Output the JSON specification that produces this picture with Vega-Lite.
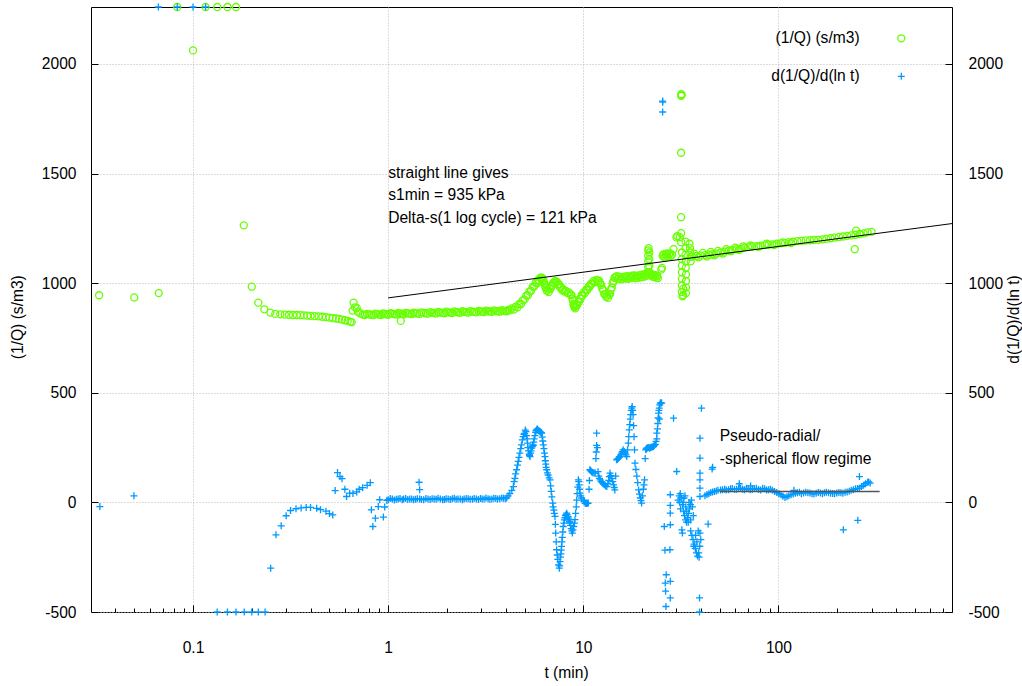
{
"$schema":"https://vega.github.io/schema/vega-lite/v6.json",
"autosize":{"type":"none"},
"width":861,"height":605,
"padding":{"left":91,"top":7,"right":70,"bottom":74},
"background":"white",
"config":{
 "view":{"stroke":"#000","strokeWidth":1},
 "axis":{"labelFont":"Liberation Sans","labelFontSize":15.6,"labelColor":"#000","titleFont":"Liberation Sans","titleFontSize":15.6,"titleFontWeight":"normal","titleColor":"#000","domain":false,"tickColor":"#000","tickWidth":1,"gridColor":"#b8b8b8","gridDash":[1,2],"gridWidth":1,"labelExpr":"'' + datum.value"},
 "legend":{"labelFont":"Liberation Sans","labelFontSize":15.6,"labelColor":"#000"}
},
"datasets":{
"q":[
{"t":0.033,"v":945},{"t":0.05,"v":935},{"t":0.0667,"v":955},{"t":0.083,"v":2400},{"t":0.1,"v":2062},{"t":0.116,"v":2400},{"t":0.133,"v":2400},{"t":0.15,"v":2400},{"t":0.166,"v":2400},{"t":0.182,"v":1264},{"t":0.2,"v":984},{"t":0.216,"v":911},{"t":0.232,"v":881},{"t":0.249,"v":866},{"t":0.264,"v":860},
{"t":0.28,"v":858},{"t":0.295,"v":857},{"t":0.31,"v":856},{"t":0.325,"v":855},{"t":0.34,"v":855},{"t":0.355,"v":854},{"t":0.37,"v":853},{"t":0.385,"v":852},{"t":0.4,"v":851},{"t":0.42,"v":850},{"t":0.44,"v":849},{"t":0.46,"v":847},{"t":0.48,"v":845},{"t":0.5,"v":843},{"t":0.52,"v":841},{"t":0.54,"v":839},{"t":0.56,"v":837},{"t":0.58,"v":834},{"t":0.6,"v":831},{"t":0.62,"v":828},{"t":0.64,"v":825},{"t":0.65,"v":822},
{"t":0.657,"v":875},{"t":0.665,"v":911},{"t":0.675,"v":890},{"t":0.69,"v":887},{"t":0.7,"v":870},{"t":0.72,"v":862},{"t":0.74,"v":857},
{"t":0.76,"v":855},{"t":0.8,"v":858},{"t":0.84,"v":854},{"t":0.88,"v":859},{"t":0.92,"v":855},{"t":0.96,"v":860},{"t":1.0,"v":856},{"t":1.05,"v":861},{"t":1.1,"v":857},{"t":1.15,"v":862},{"t":1.16,"v":828},{"t":1.2,"v":858},{"t":1.26,"v":862},{"t":1.32,"v":859},{"t":1.38,"v":863},{"t":1.45,"v":860},{"t":1.52,"v":864},{"t":1.6,"v":861},{"t":1.68,"v":865},{"t":1.76,"v":862},{"t":1.85,"v":866},{"t":1.94,"v":863},{"t":2.03,"v":867},{"t":2.13,"v":864},{"t":2.23,"v":868},{"t":2.34,"v":865},{"t":2.45,"v":869},{"t":2.57,"v":866},{"t":2.7,"v":870},{"t":2.83,"v":867},{"t":2.97,"v":871},{"t":3.1,"v":868},{"t":3.25,"v":872},{"t":3.4,"v":869},{"t":3.56,"v":873},{"t":3.73,"v":870},{"t":3.9,"v":874},{"t":4.05,"v":872},{"t":4.2,"v":876},
{"t":0.78,"v":860},{"t":0.82,"v":856},{"t":0.86,"v":861},{"t":0.9,"v":857},{"t":0.94,"v":862},{"t":0.98,"v":858},{"t":1.025,"v":863},{"t":1.075,"v":859},{"t":1.125,"v":864},{"t":1.18,"v":860},{"t":1.23,"v":865},{"t":1.29,"v":861},{"t":1.35,"v":866},{"t":1.41,"v":862},{"t":1.48,"v":867},{"t":1.56,"v":863},{"t":1.64,"v":868},{"t":1.72,"v":864},{"t":1.8,"v":869},{"t":1.9,"v":865},{"t":1.98,"v":870},{"t":2.08,"v":866},{"t":2.18,"v":871},{"t":2.28,"v":867},{"t":2.4,"v":872},{"t":2.51,"v":868},{"t":2.63,"v":873},{"t":2.76,"v":869},{"t":2.9,"v":874},{"t":3.03,"v":870},{"t":3.17,"v":875},{"t":3.32,"v":871},{"t":3.48,"v":876},{"t":3.64,"v":872},{"t":3.82,"v":877},{"t":3.98,"v":873},{"t":4.12,"v":878},
{"t":4.4,"v":880},{"t":4.6,"v":890},{"t":4.8,"v":905},{"t":5.0,"v":925},{"t":5.2,"v":945},{"t":5.4,"v":965},{"t":5.6,"v":985},{"t":5.8,"v":1000},{"t":5.95,"v":1010},{"t":6.1,"v":1020},{"t":6.2,"v":1015},{"t":6.3,"v":1000},{"t":6.4,"v":980},{"t":6.5,"v":965},{"t":6.65,"v":960},{"t":6.8,"v":975},{"t":6.95,"v":990},{"t":7.1,"v":1000},{"t":7.25,"v":1003},{"t":7.4,"v":995},{"t":7.6,"v":980},{"t":7.8,"v":968},{"t":8.0,"v":962},{"t":8.3,"v":955},{"t":8.6,"v":948},{"t":8.8,"v":930},{"t":8.9,"v":905},{"t":9.0,"v":890},{"t":9.1,"v":885},{"t":9.3,"v":900},{"t":9.5,"v":915},{"t":9.7,"v":930},{"t":9.9,"v":945},{"t":10.2,"v":955},{"t":10.5,"v":970},{"t":10.8,"v":985},{"t":11.1,"v":998},{"t":11.5,"v":1005},{"t":11.9,"v":1008},{"t":12.2,"v":1000},{"t":12.5,"v":975},{"t":12.8,"v":950},{"t":13.1,"v":938},{"t":13.4,"v":933},{"t":13.7,"v":950},{"t":14.0,"v":980},{"t":14.3,"v":1010},{"t":14.6,"v":1025},{"t":15.0,"v":1020},{"t":15.5,"v":1018},{"t":16.0,"v":1020},{"t":16.5,"v":1022},{"t":17.0,"v":1020},{"t":17.5,"v":1023},{"t":18.0,"v":1025},{"t":18.5,"v":1022},{"t":19.0,"v":1025},{"t":19.5,"v":1027},{"t":20.0,"v":1028},{"t":20.6,"v":1030},{"t":21.2,"v":1035},
{"t":4.3,"v":885},{"t":4.5,"v":893},{"t":4.7,"v":905},{"t":4.9,"v":922},{"t":5.1,"v":943},{"t":5.3,"v":962},{"t":5.5,"v":983},{"t":5.7,"v":1002},{"t":5.88,"v":1015},{"t":6.03,"v":1025},{"t":6.15,"v":1025},{"t":6.25,"v":1012},{"t":6.35,"v":993},{"t":6.45,"v":978},{"t":6.58,"v":970},{"t":6.72,"v":975},{"t":6.88,"v":990},{"t":7.03,"v":1003},{"t":7.18,"v":1010},{"t":7.33,"v":1006},{"t":7.5,"v":995},{"t":7.7,"v":982},{"t":7.9,"v":972},{"t":8.15,"v":965},{"t":8.45,"v":958},{"t":8.7,"v":945},{"t":8.85,"v":922},{"t":8.95,"v":900},{"t":9.05,"v":895},{"t":9.2,"v":900},{"t":9.4,"v":915},{"t":9.6,"v":930},{"t":9.8,"v":945},{"t":10.05,"v":958},{"t":10.35,"v":970},{"t":10.65,"v":985},{"t":10.95,"v":998},{"t":11.3,"v":1010},{"t":11.7,"v":1015},{"t":12.05,"v":1012},{"t":12.35,"v":992},{"t":12.65,"v":968},{"t":12.95,"v":950},{"t":13.25,"v":943},{"t":13.55,"v":948},{"t":13.85,"v":970},{"t":14.15,"v":1000},{"t":14.45,"v":1025},{"t":14.8,"v":1032},{"t":15.25,"v":1030},{"t":15.75,"v":1028},{"t":16.25,"v":1030},{"t":16.75,"v":1032},{"t":17.25,"v":1030},{"t":17.75,"v":1034},{"t":18.25,"v":1035},{"t":18.75,"v":1033},{"t":19.25,"v":1036},{"t":19.75,"v":1038},{"t":20.3,"v":1040},{"t":20.9,"v":1043},{"t":22.0,"v":1045},{"t":22.5,"v":1040},{"t":23.0,"v":1038},{"t":23.5,"v":1036},{"t":23.9,"v":1034},
{"t":21.5,"v":1050},{"t":21.5,"v":1075},{"t":21.5,"v":1100},{"t":21.5,"v":1125},{"t":21.5,"v":1150},{"t":21.6,"v":1160},{"t":21.8,"v":1140},{"t":21.8,"v":1110},{"t":21.8,"v":1080},{"t":21.8,"v":1050},
{"t":22.2,"v":1035},{"t":22.7,"v":1030},{"t":23.2,"v":1028},{"t":23.7,"v":1025},{"t":24.1,"v":1023},{"t":25.1,"v":1062},{"t":25.3,"v":1070},
{"t":25.5,"v":1125},{"t":26,"v":1118},{"t":26.5,"v":1130},{"t":27,"v":1122},{"t":27.5,"v":1132},{"t":28,"v":1124},{"t":28.5,"v":1130},{"t":25.8,"v":1132},{"t":26.8,"v":1136},{"t":27.8,"v":1136},
{"t":29,"v":1155},{"t":30,"v":1209},{"t":30.3,"v":1215},{"t":31.2,"v":1210},{"t":31.7,"v":1187},{"t":31.7,"v":1228},{"t":31.7,"v":1301},{"t":31.7,"v":1595},{"t":31.7,"v":1855},{"t":31.8,"v":1862},{"t":31.9,"v":1858},
{"t":32,"v":1140},{"t":32,"v":1110},{"t":32,"v":1080},{"t":32,"v":1050},{"t":32,"v":1020},{"t":32,"v":990},{"t":32,"v":960},{"t":32.2,"v":940},{"t":32.5,"v":945},{"t":32.5,"v":975},
{"t":33.4,"v":1190},{"t":33.4,"v":1160},{"t":33.4,"v":1130},{"t":33.5,"v":1100},{"t":33.5,"v":1070},{"t":33.6,"v":1040},{"t":33.6,"v":1010},{"t":33.6,"v":980},{"t":33.6,"v":955},
{"t":35,"v":1180},{"t":35.2,"v":1160},{"t":35.3,"v":1140},{"t":35.5,"v":1120},{"t":35.5,"v":1100},
{"t":36,"v":1122},{"t":38,"v":1124},{"t":40,"v":1126},{"t":42,"v":1128},{"t":44,"v":1130},{"t":46,"v":1132},{"t":48,"v":1135},{"t":50.5,"v":1140},{"t":53,"v":1144},{"t":55.5,"v":1149},{"t":58,"v":1152},{"t":61,"v":1155},{"t":64,"v":1158},{"t":67,"v":1162},{"t":70,"v":1165},{"t":73.5,"v":1167},{"t":77,"v":1169},{"t":81,"v":1171},{"t":85,"v":1174},{"t":89,"v":1176},{"t":93,"v":1177},{"t":98,"v":1180},{"t":103,"v":1182},{"t":108,"v":1184},{"t":113,"v":1187},{"t":119,"v":1189},{"t":125,"v":1192},{"t":131,"v":1193},{"t":138,"v":1195},{"t":145,"v":1196},{"t":152,"v":1197},{"t":160,"v":1198},{"t":168,"v":1200},{"t":176,"v":1202},{"t":185,"v":1205},{"t":194,"v":1208},{"t":204,"v":1211},{"t":214,"v":1213},{"t":225,"v":1216},{"t":236,"v":1218},{"t":248,"v":1221},{"t":260,"v":1224},{"t":273,"v":1227},{"t":286,"v":1232},{"t":300,"v":1234},
{"t":37,"v":1135},{"t":41,"v":1138},{"t":45,"v":1143},{"t":49,"v":1147},{"t":54,"v":1155},{"t":60,"v":1162},{"t":66,"v":1168},{"t":39,"v":1118},{"t":43,"v":1122},{"t":47,"v":1127},{"t":52,"v":1135},{"t":57,"v":1146},{"t":63,"v":1152},{"t":72,"v":1172},{"t":79,"v":1166},{"t":87,"v":1180},{"t":95,"v":1174},{"t":105,"v":1186},{"t":116,"v":1183},
{"t":246,"v":1155},{"t":250,"v":1240},{"t":262,"v":1225}
],
"d":[
{"t":0.0333,"v":-19},{"t":0.0498,"v":30},{"t":0.0664,"v":2400},{"t":0.083,"v":2400},{"t":0.1,"v":2400},{"t":0.116,"v":2400},
{"t":0.133,"v":-700},{"t":0.15,"v":-700},{"t":0.166,"v":-700},{"t":0.183,"v":-700},{"t":0.2,"v":-700},{"t":0.216,"v":-700},{"t":0.234,"v":-700},
{"t":0.25,"v":-300},{"t":0.266,"v":-148},{"t":0.283,"v":-107},{"t":0.3,"v":-61},{"t":0.316,"v":-37},{"t":0.337,"v":-29},{"t":0.358,"v":-25},{"t":0.38,"v":-23},{"t":0.4,"v":-23},{"t":0.43,"v":-27},{"t":0.45,"v":-33},{"t":0.48,"v":-40},{"t":0.5,"v":-51},{"t":0.52,"v":-57},
{"t":0.535,"v":54},{"t":0.55,"v":136},{"t":0.566,"v":118},{"t":0.58,"v":108},{"t":0.6,"v":60},{"t":0.612,"v":27},{"t":0.635,"v":42},{"t":0.66,"v":41},{"t":0.69,"v":48},{"t":0.71,"v":60},{"t":0.74,"v":67},{"t":0.78,"v":78},{"t":0.81,"v":90},{"t":0.82,"v":-34},{"t":0.835,"v":-110},{"t":0.86,"v":-72},{"t":0.89,"v":-19},{"t":0.905,"v":12},{"t":0.945,"v":-67},{"t":0.96,"v":-21},{"t":0.985,"v":9},
{"t":1.0,"v":12},{"t":1.05,"v":16},{"t":1.1,"v":14},{"t":1.15,"v":18},{"t":1.2,"v":15},{"t":1.26,"v":13},{"t":1.32,"v":16},{"t":1.38,"v":14},{"t":1.44,"v":92},{"t":1.45,"v":58},{"t":1.45,"v":15},{"t":1.52,"v":12},{"t":1.6,"v":15},{"t":1.68,"v":17},{"t":1.76,"v":14},{"t":1.85,"v":16},{"t":1.94,"v":13},{"t":2.03,"v":15},{"t":2.13,"v":17},{"t":2.23,"v":14},{"t":2.34,"v":16},{"t":2.45,"v":15},{"t":2.57,"v":17},{"t":2.7,"v":14},{"t":2.83,"v":16},{"t":2.97,"v":18},{"t":3.1,"v":15},{"t":3.25,"v":17},{"t":3.4,"v":16},{"t":3.56,"v":18},{"t":3.73,"v":17},{"t":3.9,"v":19},{"t":4.05,"v":20},
{"t":1.025,"v":18},{"t":1.075,"v":11},{"t":1.125,"v":16},{"t":1.18,"v":12},{"t":1.23,"v":18},{"t":1.29,"v":15},{"t":1.35,"v":12},{"t":1.41,"v":17},{"t":1.48,"v":13},{"t":1.56,"v":18},{"t":1.64,"v":13},{"t":1.72,"v":16},{"t":1.8,"v":19},{"t":1.9,"v":12},{"t":1.98,"v":17},{"t":2.08,"v":13},{"t":2.18,"v":19},{"t":2.28,"v":16},{"t":2.4,"v":12},{"t":2.51,"v":18},{"t":2.63,"v":14},{"t":2.76,"v":18},{"t":2.9,"v":13},{"t":3.03,"v":16},{"t":3.17,"v":20},{"t":3.32,"v":14},{"t":3.48,"v":19},{"t":3.64,"v":15},{"t":3.82,"v":20},{"t":3.98,"v":17},
{"t":4.2,"v":40},{"t":4.38,"v":72},{"t":4.46,"v":110},{"t":4.55,"v":149},{"t":4.64,"v":187},{"t":4.73,"v":225},{"t":4.82,"v":262},{"t":4.92,"v":300},{"t":5.0,"v":315},{"t":5.08,"v":323},{"t":5.15,"v":290},{"t":5.2,"v":250},{"t":5.28,"v":220},{"t":5.33,"v":209},{"t":5.4,"v":235},{"t":5.48,"v":255},{"t":5.54,"v":260},{"t":5.6,"v":290},{"t":5.7,"v":320},{"t":5.77,"v":331},{"t":5.85,"v":330},{"t":5.95,"v":325},{"t":6.05,"v":320},{"t":6.12,"v":316},{"t":6.2,"v":280},{"t":6.28,"v":245},{"t":6.36,"v":209},{"t":6.42,"v":175},{"t":6.49,"v":149},{"t":6.6,"v":125},{"t":6.75,"v":103},{"t":6.85,"v":50},{"t":6.97,"v":-3},{"t":7.06,"v":-35},{"t":7.16,"v":-64},{"t":7.22,"v":-140},{"t":7.3,"v":-216},{"t":7.4,"v":-260},{"t":7.53,"v":-300},{"t":7.6,"v":-270},{"t":7.68,"v":-235},{"t":7.74,"v":-201},{"t":7.8,"v":-160},{"t":7.89,"v":-110},{"t":8.0,"v":-80},{"t":8.1,"v":-60},{"t":8.22,"v":-49},{"t":8.35,"v":-65},{"t":8.45,"v":-80},{"t":8.55,"v":-94},{"t":8.67,"v":-120},{"t":8.79,"v":-140},{"t":8.92,"v":-110},{"t":9.06,"v":-79},{"t":9.2,"v":-20},{"t":9.3,"v":40},{"t":9.43,"v":103},{"t":9.52,"v":80},{"t":9.62,"v":42},{"t":9.8,"v":20},{"t":10.0,"v":10},{"t":10.2,"v":-3},{"t":10.4,"v":-5},{"t":10.6,"v":-3},{"t":10.7,"v":60},{"t":10.8,"v":149},{"t":11.0,"v":140},{"t":11.2,"v":135},{"t":11.5,"v":134},
{"t":4.12,"v":30},{"t":4.3,"v":55},{"t":4.42,"v":95},{"t":4.5,"v":130},{"t":4.6,"v":170},{"t":4.68,"v":205},{"t":4.78,"v":245},{"t":4.87,"v":285},{"t":4.96,"v":310},{"t":5.04,"v":330},{"t":5.12,"v":305},{"t":5.18,"v":270},{"t":5.24,"v":235},{"t":5.3,"v":215},{"t":5.37,"v":225},{"t":5.44,"v":248},{"t":5.51,"v":262},{"t":5.57,"v":275},{"t":5.65,"v":305},{"t":5.73,"v":328},{"t":5.81,"v":335},{"t":5.9,"v":328},{"t":6.0,"v":322},{"t":6.08,"v":318},{"t":6.16,"v":298},{"t":6.24,"v":262},{"t":6.32,"v":225},{"t":6.39,"v":190},{"t":6.45,"v":160},{"t":6.55,"v":135},{"t":6.68,"v":112},{"t":6.8,"v":75},{"t":6.9,"v":25},{"t":7.0,"v":-20},{"t":7.1,"v":-50},{"t":7.19,"v":-100},{"t":7.26,"v":-180},{"t":7.35,"v":-240},{"t":7.46,"v":-285},{"t":7.56,"v":-290},{"t":7.64,"v":-250},{"t":7.71,"v":-218},{"t":7.77,"v":-180},{"t":7.85,"v":-135},{"t":7.95,"v":-95},{"t":8.05,"v":-70},{"t":8.16,"v":-55},{"t":8.28,"v":-57},{"t":8.4,"v":-72},{"t":8.5,"v":-88},{"t":8.6,"v":-105},{"t":8.73,"v":-130},{"t":8.85,"v":-125},{"t":9.0,"v":-95},{"t":9.13,"v":-50},{"t":9.25,"v":10},{"t":9.37,"v":70},{"t":9.48,"v":95},{"t":9.57,"v":60},{"t":9.7,"v":30},
{"t":10.1,"v":5},{"t":10.3,"v":-5},{"t":10.5,"v":-4},{"t":10.75,"v":100},{"t":10.9,"v":145},{"t":11.1,"v":138},{"t":11.35,"v":134},{"t":11.65,"v":230},{"t":11.9,"v":140},{"t":12.1,"v":110},{"t":12.35,"v":95},{"t":12.65,"v":85},{"t":13.0,"v":75},{"t":13.35,"v":85},{"t":13.6,"v":118},{"t":13.85,"v":122},{"t":14.15,"v":95},{"t":14.4,"v":68},{"t":14.65,"v":120},{"t":14.95,"v":197},{"t":15.25,"v":205},{"t":15.55,"v":217},{"t":15.85,"v":232},{"t":16.2,"v":232},{"t":16.55,"v":217},{"t":16.85,"v":240},{"t":17.1,"v":300},{"t":17.3,"v":355},{"t":17.5,"v":400},{"t":17.7,"v":430},{"t":17.9,"v":420},{"t":18.1,"v":350},{"t":18.3,"v":240},{"t":18.6,"v":150},{"t":19.0,"v":90},{"t":19.4,"v":38},{"t":19.75,"v":8},{"t":20.1,"v":30},{"t":20.45,"v":80},{"t":20.75,"v":200},{"t":21.0,"v":244},{"t":21.3,"v":248},{"t":21.7,"v":249},{"t":22.1,"v":250},{"t":22.6,"v":253},{"t":23.1,"v":260},{"t":23.6,"v":278},{"t":24.0,"v":335},{"t":24.2,"v":385},{"t":24.4,"v":420},{"t":24.65,"v":445},{"t":25.0,"v":455},
{"t":11.6,"v":200},{"t":11.7,"v":260},{"t":11.7,"v":316},{"t":11.8,"v":250},
{"t":12.0,"v":120},{"t":12.2,"v":103},{"t":12.5,"v":90},{"t":12.8,"v":80},{"t":13.2,"v":72},{"t":13.5,"v":100},{"t":13.7,"v":134},{"t":14.0,"v":110},{"t":14.3,"v":80},{"t":14.5,"v":57},{"t":14.8,"v":194},{"t":15.1,"v":200},{"t":15.4,"v":209},{"t":15.7,"v":225},{"t":16.0,"v":240},{"t":16.4,"v":225},{"t":16.7,"v":209},{"t":17.0,"v":270},{"t":17.2,"v":331},{"t":17.4,"v":380},{"t":17.6,"v":420},{"t":17.8,"v":437},{"t":18.0,"v":400},{"t":18.2,"v":300},{"t":18.4,"v":179},{"t":18.8,"v":120},{"t":19.2,"v":57},{"t":19.6,"v":20},{"t":19.9,"v":-3},{"t":20.3,"v":60},{"t":20.6,"v":103},
{"t":20.9,"v":240},{"t":21.1,"v":247},{"t":21.5,"v":250},{"t":21.9,"v":247},{"t":22.3,"v":252},{"t":22.9,"v":255},{"t":23.4,"v":265},{"t":23.8,"v":290},{"t":23.8,"v":316},{"t":24.1,"v":360},{"t":24.3,"v":407},{"t":24.5,"v":430},{"t":24.8,"v":453},{"t":25.2,"v":453},{"t":24.6,"v":380},
{"t":29,"v":384},{"t":40.3,"v":430},{"t":39.6,"v":293},{"t":39.6,"v":202},{"t":30.1,"v":141},
{"t":25.5,"v":1831},{"t":25.5,"v":1826},{"t":25.5,"v":1781},
{"t":26.0,"v":-110},{"t":26.2,"v":-218},{"t":26.3,"v":-368},{"t":26.4,"v":-405},{"t":26.5,"v":-475},{"t":26.6,"v":-330},{"t":27.9,"v":35},{"t":27.9,"v":-14},{"t":27.9,"v":-49},{"t":27.9,"v":-102},{"t":27.8,"v":-216},{"t":27.9,"v":-360},{"t":27.9,"v":-436},
{"t":30.6,"v":10},{"t":31,"v":30},{"t":31.4,"v":40},{"t":31.8,"v":20},{"t":32.2,"v":-10},{"t":32.6,"v":-40},{"t":33,"v":-60},{"t":33.4,"v":-80},{"t":33.8,"v":-90},{"t":34.2,"v":-70},{"t":34.6,"v":-50},{"t":35,"v":-30},{"t":35.4,"v":-10},{"t":35.8,"v":10},{"t":36.2,"v":-20},{"t":36.6,"v":-60},{"t":31.5,"v":-30},{"t":32.5,"v":0},{"t":33.5,"v":-20},{"t":34.5,"v":-90},{"t":35.5,"v":-80},{"t":32,"v":-125},{"t":32.2,"v":-140},{"t":31.2,"v":0},{"t":32.8,"v":20},{"t":33.8,"v":-40},{"t":34.8,"v":0},{"t":33.2,"v":30},
{"t":35.5,"v":-130},{"t":36,"v":-150},{"t":36.5,"v":-170},{"t":37,"v":-190},{"t":37.5,"v":-210},{"t":38,"v":-230},{"t":38.5,"v":-245},{"t":39,"v":-230},{"t":39.5,"v":-200},{"t":40,"v":-170},{"t":39.6,"v":-140},{"t":38.8,"v":-130},{"t":37.6,"v":-150},{"t":36.8,"v":-200},{"t":38.2,"v":-180},{"t":39.2,"v":-250},
{"t":39.6,"v":134},{"t":39.6,"v":103},{"t":39.6,"v":65},{"t":39.6,"v":27},{"t":39.4,"v":-436},{"t":39.4,"v":-600},{"t":43.6,"v":-99},{"t":45.7,"v":152},{"t":46,"v":160},
{"t":42,"v":30},{"t":44,"v":40},{"t":46,"v":48},{"t":48,"v":52},{"t":50.5,"v":56},{"t":53,"v":60},{"t":55.5,"v":58},{"t":58,"v":63},{"t":61,"v":60},{"t":64,"v":65},{"t":67,"v":58},{"t":70,"v":62},{"t":73.5,"v":60},{"t":77,"v":64},{"t":81,"v":57},{"t":85,"v":62},{"t":89,"v":58},{"t":93,"v":55},{"t":98,"v":45},{"t":103,"v":35},{"t":108,"v":22},{"t":113,"v":30},{"t":119,"v":38},{"t":125,"v":44},{"t":131,"v":40},{"t":138,"v":46},{"t":145,"v":43},{"t":152,"v":38},{"t":160,"v":45},{"t":168,"v":40},{"t":176,"v":46},{"t":185,"v":42},{"t":194,"v":40},{"t":204,"v":45},{"t":214,"v":42},{"t":225,"v":48},{"t":236,"v":55},{"t":248,"v":62},{"t":260,"v":65},{"t":273,"v":78},{"t":286,"v":92},{"t":295,"v":88},
{"t":43,"v":36},{"t":45,"v":45},{"t":47,"v":50},{"t":49,"v":55},{"t":51.7,"v":58},{"t":54,"v":57},{"t":56.8,"v":62},{"t":59.5,"v":59},{"t":62.5,"v":63},{"t":65.5,"v":60},{"t":68.5,"v":64},{"t":71.7,"v":58},{"t":75.2,"v":63},{"t":79,"v":59},{"t":83,"v":64},{"t":87,"v":56},{"t":91,"v":60},{"t":95.5,"v":50},{"t":100.5,"v":40},{"t":105.5,"v":28},{"t":110.5,"v":26},{"t":116,"v":35},{"t":122,"v":42},{"t":128,"v":46},{"t":134.5,"v":43},{"t":141.5,"v":44},{"t":148.5,"v":40},{"t":156,"v":42},{"t":164,"v":43},{"t":172,"v":44},{"t":180.5,"v":44},{"t":189.5,"v":41},{"t":199,"v":43},{"t":209,"v":44},{"t":219.5,"v":46},{"t":230.5,"v":51},{"t":242,"v":58},{"t":254,"v":63},{"t":266.5,"v":72},{"t":279.5,"v":85},{"t":290,"v":93},
{"t":63,"v":85},{"t":72,"v":75},{"t":120,"v":55},{"t":215,"v":-125},{"t":255,"v":-82},{"t":260,"v":118}
],
"fit":[{"t":1,"v":933},{"t":775,"v":1272}],
"flat":[{"t":50,"v":50},{"t":330,"v":50}]
},
"resolve":{"axis":{"x":"independent","y":"independent"}},
"layer":[
{"data":{"name":"q"},
 "mark":{"type":"point","filled":false,"size":49,"strokeWidth":1.3,"opacity":1},
 "encoding":{
  "x":{"field":"t","type":"quantitative","scale":{"type":"log","domain":[0.03,775],"nice":false},
   "axis":{"orient":"bottom","values":[0.1,1,10,100],"grid":true,"tickSize":-7,"labelPadding":35,"title":"t (min)","titleX":475,"titleY":65,"titleBaseline":"alphabetic","titleAlign":"center","titleAnchor":null}},
  "y":{"field":"v","type":"quantitative","scale":{"domain":[-500,2260],"nice":false,"zero":false,"clamp":true},
   "axis":{"orient":"left","values":[-500,0,500,1000,1500,2000],"grid":true,"tickSize":-7,"labelPadding":22,"title":"(1/Q) (s/m3)","titleAngle":270,"titleX":-73.5,"titleY":309.7,"titleBaseline":"middle","titleAlign":"center","titleAnchor":null}},
  "color":{"datum":"(1/Q) (s/m3)","scale":{"domain":["(1/Q) (s/m3)","d(1/Q)/d(ln t)"],"range":["#66ff00","#0099ff"]},
   "legend":{"orient":"none","legendX":802.5,"legendY":23.5,"title":null,"labelAlign":"right","labelOffset":-49.5,"labelBaseline":"middle","symbolSize":49,"symbolStrokeWidth":1.3,"rowPadding":21,"labelLimit":0,"padding":0}},
  "shape":{"datum":"(1/Q) (s/m3)","scale":{"domain":["(1/Q) (s/m3)","d(1/Q)/d(ln t)"],"range":["circle","M-1,0H1M0,-1V1"]},
   "legend":{"orient":"none","legendX":802.5,"legendY":23.5,"title":null,"labelAlign":"right","labelOffset":-49.5,"labelBaseline":"middle","symbolSize":49,"symbolStrokeWidth":1.3,"rowPadding":21,"labelLimit":0,"padding":0}}
 }},
{"data":{"name":"d"},
 "mark":{"type":"point","filled":false,"size":49,"strokeWidth":1.3,"opacity":1},
 "encoding":{
  "x":{"field":"t","type":"quantitative",
   "axis":{"orient":"bottom","values":[0.04,0.05,0.06,0.07,0.08,0.09,0.2,0.3,0.4,0.5,0.6,0.7,0.8,0.9,2,3,4,5,6,7,8,9,20,30,40,50,60,70,80,90,200,300,400,500,600,700],"labels":false,"grid":false,"tickSize":-4,"title":null}},
  "y":{"field":"v","type":"quantitative",
   "axis":{"orient":"right","values":[-500,0,500,1000,1500,2000],"grid":false,"tickSize":-7,"labelPadding":23,"title":"d(1/Q)/d(ln t)","titleAngle":270,"titleX":61,"titleY":312,"titleBaseline":"middle","titleAlign":"center","titleAnchor":null}},
  "color":{"datum":"d(1/Q)/d(ln t)"},
  "shape":{"datum":"d(1/Q)/d(ln t)"}
 }},
{"data":{"name":"fit"},
 "mark":{"type":"line","color":"#000","strokeWidth":1},
 "encoding":{"x":{"field":"t","type":"quantitative","axis":null},"y":{"field":"v","type":"quantitative","axis":null}}},
{"data":{"name":"flat"},
 "mark":{"type":"line","color":"#555","strokeWidth":1.5},
 "encoding":{"x":{"field":"t","type":"quantitative","axis":null},"y":{"field":"v","type":"quantitative","axis":null}}},
{"data":{"values":[{}]},
 "mark":{"type":"text","align":"left","baseline":"alphabetic","font":"Liberation Sans","fontSize":15.6,"lineHeight":22.5,"lineBreak":"\n","color":"#000"},
 "encoding":{"x":{"datum":1,"type":"quantitative","axis":null},"y":{"datum":1480,"type":"quantitative","axis":null},"text":{"value":"straight line gives\ns1min = 935 kPa\nDelta-s(1 log cycle) = 121 kPa"}}},
{"data":{"values":[{}]},
 "mark":{"type":"text","align":"left","baseline":"alphabetic","font":"Liberation Sans","fontSize":15.6,"lineHeight":22.5,"lineBreak":"\n","color":"#000"},
 "encoding":{"x":{"datum":50,"type":"quantitative","axis":null},"y":{"datum":278,"type":"quantitative","axis":null},"text":{"value":"Pseudo-radial/\n-spherical flow regime"}}}
]
}
